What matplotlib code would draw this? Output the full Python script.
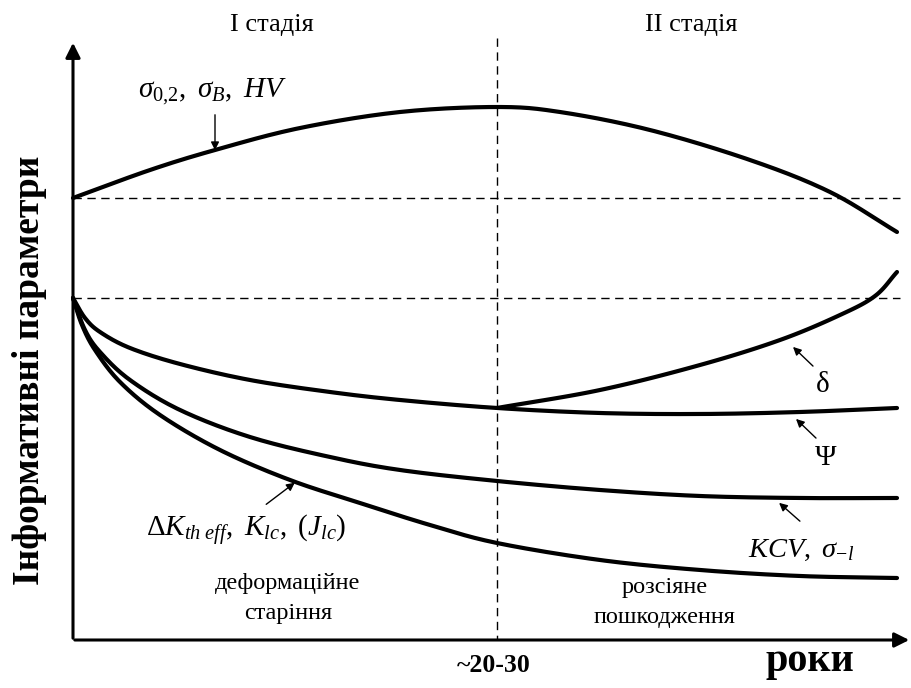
import matplotlib
matplotlib.use("Agg")
import matplotlib.pyplot as plt
import numpy as np

plt.rcParams['font.family'] = ['Liberation Serif', 'DejaVu Serif']
plt.rcParams['mathtext.fontset'] = 'custom'
plt.rcParams['mathtext.rm'] = 'Liberation Serif'
plt.rcParams['mathtext.it'] = 'Liberation Serif:italic'
plt.rcParams['mathtext.bf'] = 'Liberation Serif:bold'

# Schematic curves (x: time, y: parameter level; screen-like units, y grows downward)
x_strength = [73, 150, 215, 300, 400, 497, 560, 650, 750, 830, 897]
y_strength = [198, 170, 150, 128, 112, 107, 112, 130, 160, 192, 232]

x_delta = [497, 600, 700, 780, 840, 875, 897]
y_delta = [408, 390, 365, 340, 315, 296, 272]

x_psi = [73, 85, 100, 130, 180, 250, 330, 400, 497, 600, 700, 800, 897]
y_psi = [298, 318, 332, 348, 364, 380, 392, 400, 408, 413, 414, 412, 408]

x_kcv = [73, 85, 100, 130, 180, 250, 330, 400, 497, 600, 700, 800, 897]
y_kcv = [298, 330, 352, 380, 410, 437, 457, 470, 481, 490, 496, 498, 498]

x_dk = [73, 82, 95, 120, 160, 220, 290, 360, 430, 497, 600, 700, 800, 897]
y_dk = [298, 325, 350, 382, 415, 450, 480, 503, 525, 543, 560, 570, 576, 578]

x_split = 497          # ~20-30 years
y_ref_levels = [198, 298]


def smooth(xs, ys, n=20):
    P = np.array(list(zip(xs, ys)), dtype=float)
    Pe = np.vstack([2 * P[0] - P[1], P, 2 * P[-1] - P[-2]])
    pts = []
    for i in range(1, len(Pe) - 2):
        p0, p1, p2, p3 = Pe[i - 1], Pe[i], Pe[i + 1], Pe[i + 2]
        for t in np.linspace(0, 1, n, endpoint=False):
            t2, t3 = t * t, t * t * t
            pts.append(0.5 * ((2 * p1) + (-p0 + p2) * t + (2 * p0 - 5 * p1 + 4 * p2 - p3) * t2
                              + (-p0 + 3 * p1 - 3 * p2 + p3) * t3))
    pts.append(P[-1])
    return np.array(pts)


fig = plt.figure(figsize=(9.12, 6.88), dpi=100)
ax = fig.add_axes([0, 0, 1, 1])
ax.set_xlim(0, 912)
ax.set_ylim(688, 0)
ax.axis('off')

lw = 3.0
for xs, ys in [(x_strength, y_strength), (x_delta, y_delta), (x_psi, y_psi),
               (x_kcv, y_kcv), (x_dk, y_dk)]:
    pts = smooth(xs, ys)
    ax.plot(pts[:, 0], pts[:, 1], color='black', lw=lw, solid_capstyle='round')

# axes arrows
ax.annotate('', xy=(73, 40), xytext=(73, 641),
            arrowprops=dict(arrowstyle='-|>', color='black', lw=2.2, mutation_scale=22))
ax.annotate('', xy=(912, 640), xytext=(72, 640),
            arrowprops=dict(arrowstyle='-|>', color='black', lw=2.2, mutation_scale=22))

# dashed lines
ax.plot([x_split, x_split], [38, 640], color='black', lw=1.0, ls=(0, (6, 4)))
for yv in y_ref_levels:
    ax.plot([73, 900], [yv, yv], color='black', lw=1.0, ls=(0, (6, 4)))

fs_stage = 19
ax.text(272, 25, 'I стадія', fontsize=fs_stage, ha='center', va='center')
ax.text(691, 25, 'II стадія', fontsize=fs_stage, ha='center', va='center')

fm = 21
ax.text(138, 92, r'$\sigma_{\mathit{0{,}2}},\ \sigma_B,\ HV$', fontsize=fm, ha='left', va='center')
ax.annotate('', xy=(215, 153), xytext=(215, 112),
            arrowprops=dict(arrowstyle='-|>', color='black', lw=1.0, mutation_scale=12))

ax.text(146, 530, r'$\mathit{\Delta}K_{th\ eff},\ K_{lc},\ (J_{lc})$', fontsize=fm,
        ha='left', va='center')
ax.annotate('', xy=(297, 481), xytext=(264, 506),
            arrowprops=dict(arrowstyle='-|>', color='black', lw=1.0, mutation_scale=12))

ax.text(748, 550, r'$KCV,\ \sigma_{-l}$', fontsize=20.5, ha='left', va='center')
ax.annotate('', xy=(777, 501), xytext=(802, 523),
            arrowprops=dict(arrowstyle='-|>', color='black', lw=1.0, mutation_scale=12))

ax.text(823, 385, 'δ', fontsize=21, ha='center', va='center')
ax.annotate('', xy=(791, 345), xytext=(815, 368),
            arrowprops=dict(arrowstyle='-|>', color='black', lw=1.0, mutation_scale=12))

ax.text(826, 458, 'Ψ', fontsize=21, ha='center', va='center')
ax.annotate('', xy=(794, 417), xytext=(818, 440),
            arrowprops=dict(arrowstyle='-|>', color='black', lw=1.0, mutation_scale=12))

fs_b = 17.5
ax.text(288, 584, 'деформаційне', fontsize=fs_b, ha='center', va='center')
ax.text(288, 614, 'старіння', fontsize=fs_b, ha='center', va='center')
ax.text(665, 588, 'розсіяне', fontsize=fs_b, ha='center', va='center')
ax.text(665, 617, 'пошкодження', fontsize=fs_b, ha='center', va='center')

ax.text(494, 666, '~20-30', fontsize=18.5, fontweight='bold', ha='center', va='center')
ax.text(810, 661, 'роки', fontsize=29, fontweight='bold', ha='center', va='center')

ax.text(30, 370, 'Інформативні параметри', fontsize=27, fontweight='bold',
        ha='center', va='center', rotation=90)

fig.savefig('out.png', dpi=100)
